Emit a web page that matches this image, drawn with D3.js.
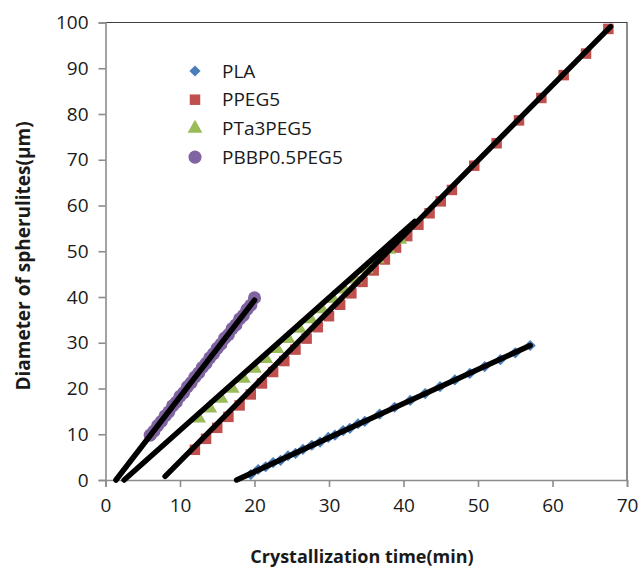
<!DOCTYPE html>
<html>
<head>
<meta charset="utf-8">
<script src="https://cdn.jsdelivr.net/npm/d3@7"></script>
<style>
  body { margin: 0; background: #fff; }
  svg { display: block; font-family: "Open Sans", sans-serif; }
</style>
</head>
<body>
<div id="chart"></div>
<script>
// series
const seriesNames = ['PLA', 'PPEG5', 'PTa3PEG5', 'PBBP0.5PEG5'];

const plaX = [19.5, 20.5, 21.5, 22.5, 23.5, 24.5, 25.5, 26.5, 27.7, 28.8, 29.9, 30.8, 31.9, 32.8, 33.9, 34.8,
              36.8, 38.8, 40.9, 42.9, 44.9, 46.9, 48.9, 50.9, 53.0, 55.0, 57.0];
const plaY = [1.2, 2.3, 2.9, 3.8, 4.3, 5.3, 5.8, 6.7, 7.6, 8.3, 9.3, 9.8, 10.8, 11.3, 12.3, 12.8,
              14.4, 15.9, 17.4, 18.9, 20.4, 21.9, 23.3, 24.8, 26.3, 27.8, 29.4];

const ppegX = [12, 13.5, 15, 16.5, 18, 19.5, 21, 22.5, 24, 25.5, 27, 28.5, 30, 31.5, 33, 34.5, 36, 37.5,
               39, 40.5, 42, 43.5, 45, 46.5, 49.5, 52.5, 55.5, 58.5, 61.5, 64.5, 67.5];
const ppegY = [6.6, 9.0, 11.4, 13.8, 16.3, 18.7, 21.1, 23.6, 26.0, 28.5, 30.9, 33.4, 35.8, 38.3, 40.8, 43.3, 45.8, 48.2,
               50.8, 53.3, 55.8, 58.3, 60.9, 63.4, 68.7, 73.6, 78.6, 83.5, 88.5, 93.2, 98.6];

const pta3X = [12.5, 14, 15.5, 17, 18.5, 20, 21.5, 23, 24.5, 26, 27.5, 29, 30.5, 32, 33.5, 35, 36.5, 38, 39.5];
const pta3Y = [13.5, 15.7, 17.8, 20.0, 22.2, 24.4, 26.5, 28.7, 30.9, 33.1, 35.2, 37.4, 39.6, 41.7, 43.9, 46.1, 48.3, 50.4, 52.6];

const pbbpX = [6, 6.5, 7, 7.5, 8, 8.5, 9, 9.5, 10, 10.5, 11, 11.5, 12, 12.5, 13, 13.5, 14, 14.5,
               15, 15.5, 16, 16.5, 17, 17.5, 18, 18.5, 19, 19.5, 20];
const pbbpY = [9.8, 10.7, 11.9, 12.8, 14.0, 14.9, 16.2, 17.0, 18.3, 19.1, 20.4, 21.3, 22.5, 23.4, 24.6, 25.5, 26.7, 27.6,
               28.8, 29.7, 31.0, 31.8, 33.1, 33.9, 35.2, 36.0, 37.3, 38.2, 39.8];

// linear trend lines (start and end points)
const plaFitX = [17.6, 57.0],  plaFitY = [0, 29.4];
const ppegFitX = [8.0, 67.8],  ppegFitY = [0.8, 99.1];
const pta3FitX = [2.5, 41.5],  pta3FitY = [0, 56.5];
const pbbpFitX = [1.4, 20.0],  pbbpFitY = [0, 39.3];

const xTicks = [0, 10, 20, 30, 40, 50, 60, 70];
const yTicks = [0, 10, 20, 30, 40, 50, 60, 70, 80, 90, 100];

const W = 639, H = 569;
const plotLeft = 105.5, plotRight = 627, plotTop = 22.5, plotBottom = 480;

const x = d3.scaleLinear().domain([0, 70]).range([plotLeft, plotRight]);
const y = d3.scaleLinear().domain([0, 100]).range([plotBottom, plotTop]);

const svg = d3.select('#chart').append('svg')
    .attr('width', W)
    .attr('height', H);

// plot frame (top and right)
svg.append('path')
    .attr('d', `M${plotLeft},${plotTop}H${plotRight}V${plotBottom}`)
    .attr('fill', 'none')
    .attr('stroke', '#404040')
    .attr('stroke-width', 1.2);

// axes
const xAxis = svg.append('g')
    .attr('transform', `translate(0,${plotBottom})`)
    .call(d3.axisBottom(x).tickValues(xTicks).tickSize(7).tickPadding(12));
const yAxis = svg.append('g')
    .attr('transform', `translate(${plotLeft},0)`)
    .call(d3.axisLeft(y).tickValues(yTicks).tickSize(7).tickPadding(10));

[xAxis, yAxis].forEach(g => {
  g.select('.domain').attr('stroke', '#8c8c8c').attr('stroke-width', 1.6);
  g.selectAll('.tick line').attr('stroke', '#8c8c8c').attr('stroke-width', 1.6);
  g.selectAll('.tick text')
      .attr('fill', '#1a1a1a')
      .style('font-family', '"Open Sans", sans-serif')
      .style('font-size', '19px');
});

// markers
const colors = ['#4a7ebb', '#c0504d', '#9bbb59', '#8064a2'];
const symbols = [
  d3.symbol().type(d3.symbolDiamond2).size(80),
  d3.symbol().type(d3.symbolSquare2).size(140),
  d3.symbol().type(d3.symbolTriangle).size(95),
  d3.symbol().type(d3.symbolCircle).size(135)
];
const seriesX = [plaX, ppegX, pta3X, pbbpX];
const seriesY = [plaY, ppegY, pta3Y, pbbpY];

const marks = svg.append('g');
seriesX.forEach((xs, i) => {
  const pts = xs.map((v, j) => [v, seriesY[i][j]]);
  marks.append('g').selectAll('path')
    .data(pts)
    .join('path')
      .attr('d', symbols[i])
      .attr('transform', d => `translate(${x(d[0])},${y(d[1])})`)
      .attr('fill', colors[i]);
});

// trend lines on top
const fits = [[plaFitX, plaFitY], [ppegFitX, ppegFitY], [pta3FitX, pta3FitY], [pbbpFitX, pbbpFitY]];
const line = d3.line().x(d => x(d[0])).y(d => y(d[1]));
svg.append('g').selectAll('path')
  .data(fits)
  .join('path')
    .attr('d', f => line(f[0].map((v, j) => [v, f[1][j]])))
    .attr('fill', 'none')
    .attr('stroke', '#000')
    .attr('stroke-width', 5.5)
    .attr('stroke-linecap', 'round');

// legend
const legend = svg.append('g');
seriesNames.forEach((name, i) => {
  const ly = 71 + i * 28.7;
  legend.append('path')
      .attr('d', symbols[i])
      .attr('transform', `translate(195,${ly})`)
      .attr('fill', colors[i]);
  legend.append('text')
      .attr('x', 222)
      .attr('y', ly)
      .attr('dy', '0.35em')
      .attr('fill', '#1a1a1a')
      .style('font-size', '19px')
      .text(name);
});

// axis titles
svg.append('text')
    .attr('x', 362)
    .attr('y', 557)
    .attr('dy', '0.35em')
    .attr('text-anchor', 'middle')
    .style('font-size', '18px')
    .style('font-weight', 'bold')
    .attr('fill', '#1a1a1a')
    .text('Crystallization time(min)');

svg.append('text')
    .attr('transform', 'translate(23,256) rotate(-90)')
    .attr('dy', '0.35em')
    .attr('text-anchor', 'middle')
    .style('font-size', '19px')
    .style('font-weight', 'bold')
    .attr('fill', '#1a1a1a')
    .text('Diameter of spherulites(μm)');
</script>
</body>
</html>
